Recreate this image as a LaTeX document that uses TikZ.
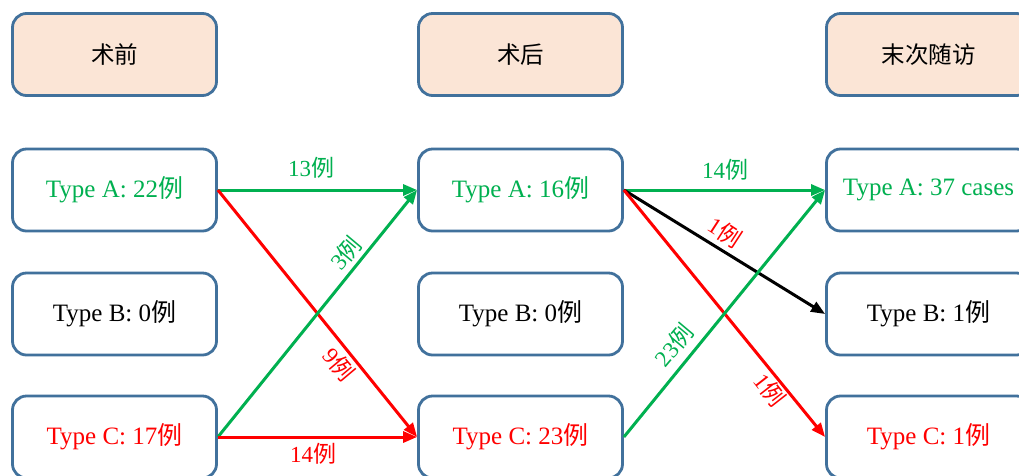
\documentclass[tikz,border=0pt]{standalone}
\usepackage{fontspec}
\setmainfont{Liberation Serif}
\newfontfamily\cjk{Noto Sans CJK SC}
\usetikzlibrary{arrows.meta}
\definecolor{bord}{RGB}{65,113,156}
\definecolor{hfill}{RGB}{251,229,214}
\definecolor{ggreen}{RGB}{0,176,80}
\definecolor{rred}{RGB}{255,0,0}
\newcommand{\lie}{{\cjk 例}}
\begin{document}
\begin{tikzpicture}[x=1pt,y=-1pt,
 box/.style={draw=bord, line width=2.8pt, rounded corners=14pt, minimum width=204pt, minimum height=82pt, fill=white, font=\fontsize{25}{29}\selectfont, inner sep=0pt},
 hbox/.style={box, fill=hfill, font=\fontsize{23.5}{27}\selectfont\cjk},
 conn/.style={line width=3pt, -{Triangle[length=14pt,width=11pt]}},
 lab/.style={font=\fontsize{23}{27}\selectfont, inner sep=0pt}
]
\clip (0,0) rectangle (1019,475);
\fill[white] (0,0) rectangle (1019,475);
% headers
\node[hbox] (h1) at (114.5,54.5) {术前};
\node[hbox] (h2) at (520.5,54.5) {术后};
\node[hbox] (h3) at (928.5,54.5) {末次随访};
% column 1
\node[box, text=ggreen] (a1) at (114.5,190) {Type A: 22\lie};
\node[box] (b1) at (114.5,314) {Type B: 0\lie};
\node[box, text=rred] (c1) at (114.5,437) {Type C: 17\lie};
% column 2
\node[box, text=ggreen] (a2) at (520.5,190) {Type A: 16\lie};
\node[box] (b2) at (520.5,314) {Type B: 0\lie};
\node[box, text=rred] (c2) at (520.5,437) {Type C: 23\lie};
% column 3
\node[box, text=ggreen] (a3) at (928.5,190) {Type A: 37 cases};
\node[box] (b3) at (928.5,314) {Type B: 1\lie};
\node[box, text=rred] (c3) at (928.5,437) {Type C: 1\lie};
% connectors stage 1
\draw[conn, ggreen] (a1.east) -- (a2.west);
\draw[conn, rred] (a1.east) -- (c2.west);
\draw[conn, ggreen] (c1.east) -- (a2.west);
\draw[conn, rred] (c1.east) -- (c2.west);
% connectors stage 2
\draw[conn, ggreen] (a2.east) -- (a3.west);
\draw[conn, black] (a2.east) -- (b3.west);
\draw[conn, rred] (a2.east) -- (c3.west);
\draw[conn, ggreen] (c2.east) -- (a3.west);
% labels
\node[lab, text=ggreen] (l1) at (311,168) {13\lie};
\node[lab, text=ggreen, rotate=50] (l2) at (346,253) {3\lie};
\node[lab, text=rred, rotate=-50] (l3) at (339,364) {9\lie};
\node[lab, text=rred] (l4) at (313,454) {14\lie};
\node[lab, text=ggreen] (l5) at (725,170) {14\lie};
\node[lab, text=rred, rotate=-33] (l6) at (725,232) {1\lie};
\node[lab, text=ggreen, rotate=50] (l7) at (674,345) {23\lie};
\node[lab, text=rred, rotate=-52] (l8) at (770,390) {1\lie};
\end{tikzpicture}
\end{document}
